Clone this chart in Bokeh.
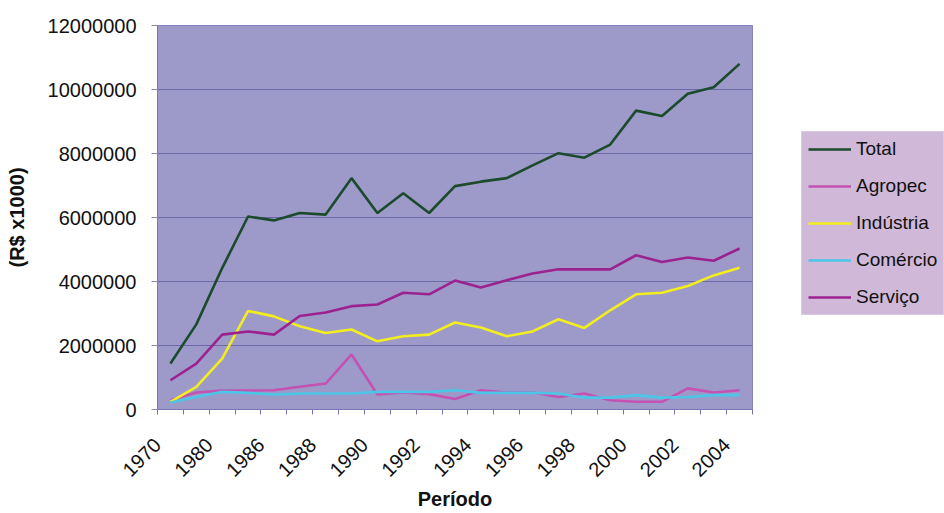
from bokeh.plotting import figure
from bokeh.layouts import row
from bokeh.models import (FixedTicker, Legend, LegendItem, Range1d,
                          BasicTickFormatter, SingleIntervalTicker)
from bokeh.embed import file_html
from bokeh.resources import INLINE

years = ["1970", "1975", "1980", "1985", "1986", "1987", "1988", "1989", "1990",
         "1991", "1992", "1993", "1994", "1995", "1996", "1997", "1998", "1999",
         "2000", "2001", "2002", "2003", "2004"]

total = [1440000, 2660000, 4420000, 6030000, 5910000, 6140000, 6090000, 7230000,
         6140000, 6760000, 6140000, 6980000, 7120000, 7230000, 7630000, 8010000,
         7870000, 8280000, 9340000, 9170000, 9870000, 10070000, 10800000]
agropec = [290000, 530000, 590000, 590000, 600000, 710000, 810000, 1720000,
           470000, 530000, 480000, 330000, 600000, 530000, 530000, 390000,
           500000, 290000, 240000, 240000, 660000, 530000, 600000]
industria = [240000, 710000, 1590000, 3080000, 2910000, 2600000, 2390000, 2500000,
             2130000, 2290000, 2340000, 2720000, 2560000, 2290000, 2440000, 2820000,
             2550000, 3100000, 3600000, 3650000, 3860000, 4190000, 4430000]
comercio = [220000, 390000, 550000, 520000, 470000, 500000, 500000, 500000,
            550000, 550000, 550000, 600000, 520000, 520000, 520000, 500000,
            370000, 370000, 450000, 370000, 390000, 450000, 450000]
servico = [915000, 1436000, 2340000, 2440000, 2340000, 2920000, 3030000, 3230000,
           3280000, 3650000, 3600000, 4030000, 3810000, 4040000, 4250000, 4380000,
           4380000, 4380000, 4820000, 4610000, 4750000, 4650000, 5030000]

series_names = ["Total", "Agropec", "Indústria", "Comércio", "Serviço"]
series_values = [total, agropec, industria, comercio, servico]
series_colors = ["#1c4a2c", "#c452b2", "#f2ee1e", "#4cc6e6", "#9c2290"]

x = list(range(len(years)))
FONT = "Liberation Sans"

p = figure(width=800, height=513, output_backend="svg", toolbar_location=None,
           x_range=Range1d(-0.5, len(years) - 0.5), y_range=Range1d(0, 12000000),
           min_border_left=157, min_border_right=48, min_border_top=25,
           min_border_bottom=104)

p.background_fill_color = "#9d9ac9"
p.border_fill_color = "white"
p.outline_line_color = "#8583bf"
p.outline_line_width = 1

p.xgrid.grid_line_color = None
p.ygrid.grid_line_color = "#6a68a8"
p.ygrid.grid_line_width = 1.2

# y axis
p.yaxis.ticker = SingleIntervalTicker(interval=2000000)
p.yaxis.formatter = BasicTickFormatter(use_scientific=False)
p.yaxis.axis_label = "(R$ x1000)"
p.yaxis.axis_label_text_font = FONT
p.yaxis.axis_label_text_font_style = "bold"
p.yaxis.axis_label_text_font_size = "20px"
p.yaxis.axis_label_text_color = "#111111"
p.yaxis.axis_label_standoff = 17
p.yaxis.major_label_text_font = FONT
p.yaxis.major_label_text_font_size = "20px"
p.yaxis.major_label_text_color = "#111111"
p.yaxis.major_label_standoff = 15
p.yaxis.major_tick_out = 6
p.yaxis.major_tick_in = 0
p.yaxis.minor_tick_out = 0
p.yaxis.minor_tick_in = 0
p.yaxis.major_tick_line_color = "#8a8a9a"
p.yaxis.axis_line_color = "#7775b5"

# x axis: labels on every second category, tick marks between categories
label_shift = -0.5
label_idx = x[::2]
label_pos = [i + label_shift for i in label_idx]
bounds = [i - 0.5 for i in x] + [x[-1] + 0.5]
p.xaxis.ticker = FixedTicker(ticks=label_pos, minor_ticks=bounds)
p.xaxis.major_label_overrides = {pos: years[i] for pos, i in zip(label_pos, label_idx)}
p.xaxis.major_label_orientation = 0.785398
p.xaxis.major_label_text_font = FONT
p.xaxis.major_label_text_font_size = "20px"
p.xaxis.major_label_text_color = "#111111"
p.xaxis.major_label_text_line_height = 0.9
p.xaxis.major_label_standoff = 27
p.xaxis.major_tick_out = 0
p.xaxis.major_tick_in = 0
p.xaxis.minor_tick_out = 5
p.xaxis.minor_tick_in = 0
p.xaxis.minor_tick_line_color = "#7775b5"
p.xaxis.axis_line_color = "#7775b5"
p.xaxis.axis_label = "Período"
p.xaxis.axis_label_text_font = FONT
p.xaxis.axis_label_text_font_style = "bold"
p.xaxis.axis_label_text_font_size = "20px"
p.xaxis.axis_label_text_color = "#111111"
p.xaxis.axis_label_text_line_height = 0.9
p.xaxis.axis_label_standoff = 2

for vals, col in zip(series_values, series_colors):
    p.line(x, vals, line_color=col, line_width=2.6)

# legend panel to the right of the chart (same series, drawn off-range so
# that only the legend keys show)
pl = figure(width=144, height=513, output_backend="svg", toolbar_location=None,
            x_range=Range1d(0, 1), y_range=Range1d(-2, -1),
            min_border_left=0, min_border_right=0, min_border_top=25,
            min_border_bottom=104)
pl.axis.visible = False
pl.grid.visible = False
pl.outline_line_color = None
pl.background_fill_color = "white"
pl.border_fill_color = "white"

items = []
for name, vals, col in zip(series_names, series_values, series_colors):
    r = pl.line(x, vals, line_color=col, line_width=2.6)
    items.append(LegendItem(label=name, renderers=[r]))

legend = Legend(items=items, location=(1, 94))
legend.label_text_font = FONT
legend.label_text_font_size = "19px"
legend.label_text_color = "#111111"
legend.glyph_width = 43
legend.glyph_height = 20
legend.label_height = 20
legend.label_standoff = 5
legend.spacing = 15
legend.padding = 6
legend.margin = 0
legend.background_fill_color = "#d0b8d9"
legend.background_fill_alpha = 1.0
legend.border_line_color = "#e4e0ee"
legend.border_line_width = 1
pl.add_layout(legend, "center")

layout = row(p, pl, spacing=0)
html = file_html(layout, INLINE)
open("out.html", "w").write(html)
